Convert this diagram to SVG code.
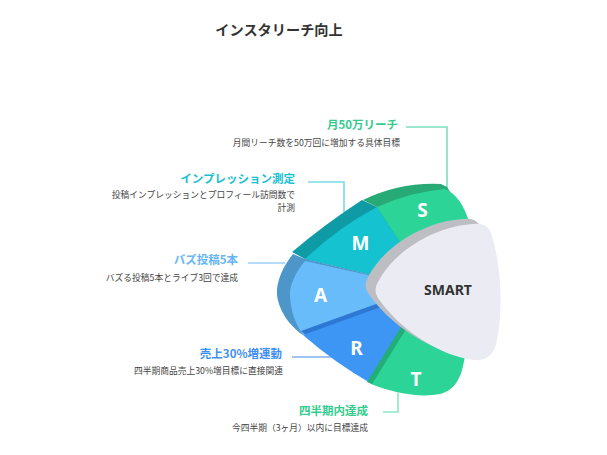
<svg xmlns="http://www.w3.org/2000/svg" xmlns:xlink="http://www.w3.org/1999/xlink" width="607" height="455" viewBox="0 0 607 455">
<style>
.ttl{font-family:"Noto Sans CJK JP","Noto Sans",sans-serif;font-weight:700;font-size:14.2px;fill:#333;text-anchor:middle}
.let{font-family:"Noto Sans","Noto Sans CJK JP",sans-serif;font-weight:700;font-size:19px;fill:#fff;text-anchor:middle}
.lbl{font-family:"Noto Sans CJK JP","Noto Sans",sans-serif;font-weight:700;font-size:11.5px;text-anchor:end}
.desc{font-family:"Noto Sans CJK JP","Noto Sans",sans-serif;font-size:8.75px;fill:#444;text-anchor:end}
.conn{fill:none;stroke-width:1.6}
.core{font-family:"Noto Sans","Noto Sans CJK JP",sans-serif;font-weight:700;font-size:14px;fill:#333;text-anchor:middle}
</style>
<defs>
<path id="rFront" d="M431,289 L303,335 Q335,363 372,384 Z"/>
<path id="tFront" d="M431,289 L372,384 C392,393 420,398 440,394 C455,390 462,378 465,355 Z"/>
<path id="coreFace" d="M378,282 C396,248 438,226 473,224 Q487,222 491,233 C500,260 504,305 497,340 Q493,362 474,360 C440,356 400,330 378,298 Q373,290 378,282 Z"/>
</defs>
<rect width="607" height="455" fill="#fff"/>
<text class="ttl" x="279" y="35.4">インスタリーチ向上</text>

<g id="connectors">
<polyline class="conn" stroke="#7ADFBC" points="406,127 447,127 447,189"/>
<polyline class="conn" stroke="#76DCE5" points="308,182 344,182 344,212"/>
<polyline class="conn" stroke="#9CCFF8" points="248,263 285,263"/>
<polyline class="conn" stroke="#80B1EF" points="292,357 334,357"/>
<polyline class="conn" stroke="#8FE5C5" points="383,412 398,412 398,393"/>
</g>

<g id="node-M">
<path fill="#0F9BA6" d="M431,289 L377,207 L362,200 Q325,224 292,252 L305,259 Z"/>
<path fill="#14C3CF" d="M431,289 L377,207 Q339,227 305,259 Z"/>
<text class="let" x="360.5" y="250.3">M</text>
<text class="lbl" fill="#17C0CF" x="295" y="183">インプレッション測定</text>
<text class="desc" x="295" y="198.4">投稿インプレッションとプロフィール訪問数で</text>
<text class="desc" x="295" y="211.4">計測</text>
</g>

<g id="node-S">
<path fill="#27AA75" d="M431,289 L377,207 L363,200 Q400,182 441,184 L447,187 L470,225 Z"/>
<path fill="#2DD497" d="M431,289 L377,207 Q410,192 445,189 Q462,196 470,225 Z"/>
<text class="let" x="422.5" y="217.3">S</text>
<text class="lbl" fill="#33CC8E" x="398" y="129.4">月50万リーチ</text>
<text class="desc" x="400" y="146.3">月間リーチ数を50万回に増加する具体目標</text>
</g>

<g id="node-A">
<path fill="#4C96CA" d="M431,289 L305,259 L293,254 C283,266 276,282 277,295 C279,312 291,327 303,335 Z"/>
<path fill="#67BCF9" d="M431,289 L305,261 C296,272 289,285 290,297 C291,312 296,325 303,335 Z"/>
<text class="let" x="320.5" y="302.3">A</text>
<text class="lbl" fill="#66B6F6" x="238" y="264.4">バズ投稿5本</text>
<text class="desc" x="238" y="280.5">バズる投稿5本とライブ3回で達成</text>
</g>

<g id="node-R">
<use xlink:href="#rFront" href="#rFront" fill="#2C78D2" transform="translate(-2,-4)"/>
<use xlink:href="#rFront" href="#rFront" fill="#3E96F4"/>
<text class="let" x="356.5" y="355.3">R</text>
<text class="lbl" fill="#3F8FF0" x="282" y="358.2">売上30%増連動</text>
<text class="desc" x="283" y="374">四半期商品売上30%増目標に直接関連</text>
</g>

<g id="node-T">
<use xlink:href="#tFront" href="#tFront" fill="#23AD78" transform="translate(-5,-2)"/>
<use xlink:href="#tFront" href="#tFront" fill="#2DD497"/>
<text class="let" x="416" y="385.8">T</text>
<text class="lbl" fill="#33CC8E" x="368" y="414.9">四半期内達成</text>
<text class="desc" x="368" y="431.3">今四半期（3ヶ月）以内に目標達成</text>
</g>

<g id="node-SMART">
<use xlink:href="#coreFace" href="#coreFace" fill="#BDBEC4" transform="translate(-10,-5)"/>
<use xlink:href="#coreFace" href="#coreFace" fill="#EBEBF4"/>
<text class="core" x="448" y="295">SMART</text>
</g>
</svg>
